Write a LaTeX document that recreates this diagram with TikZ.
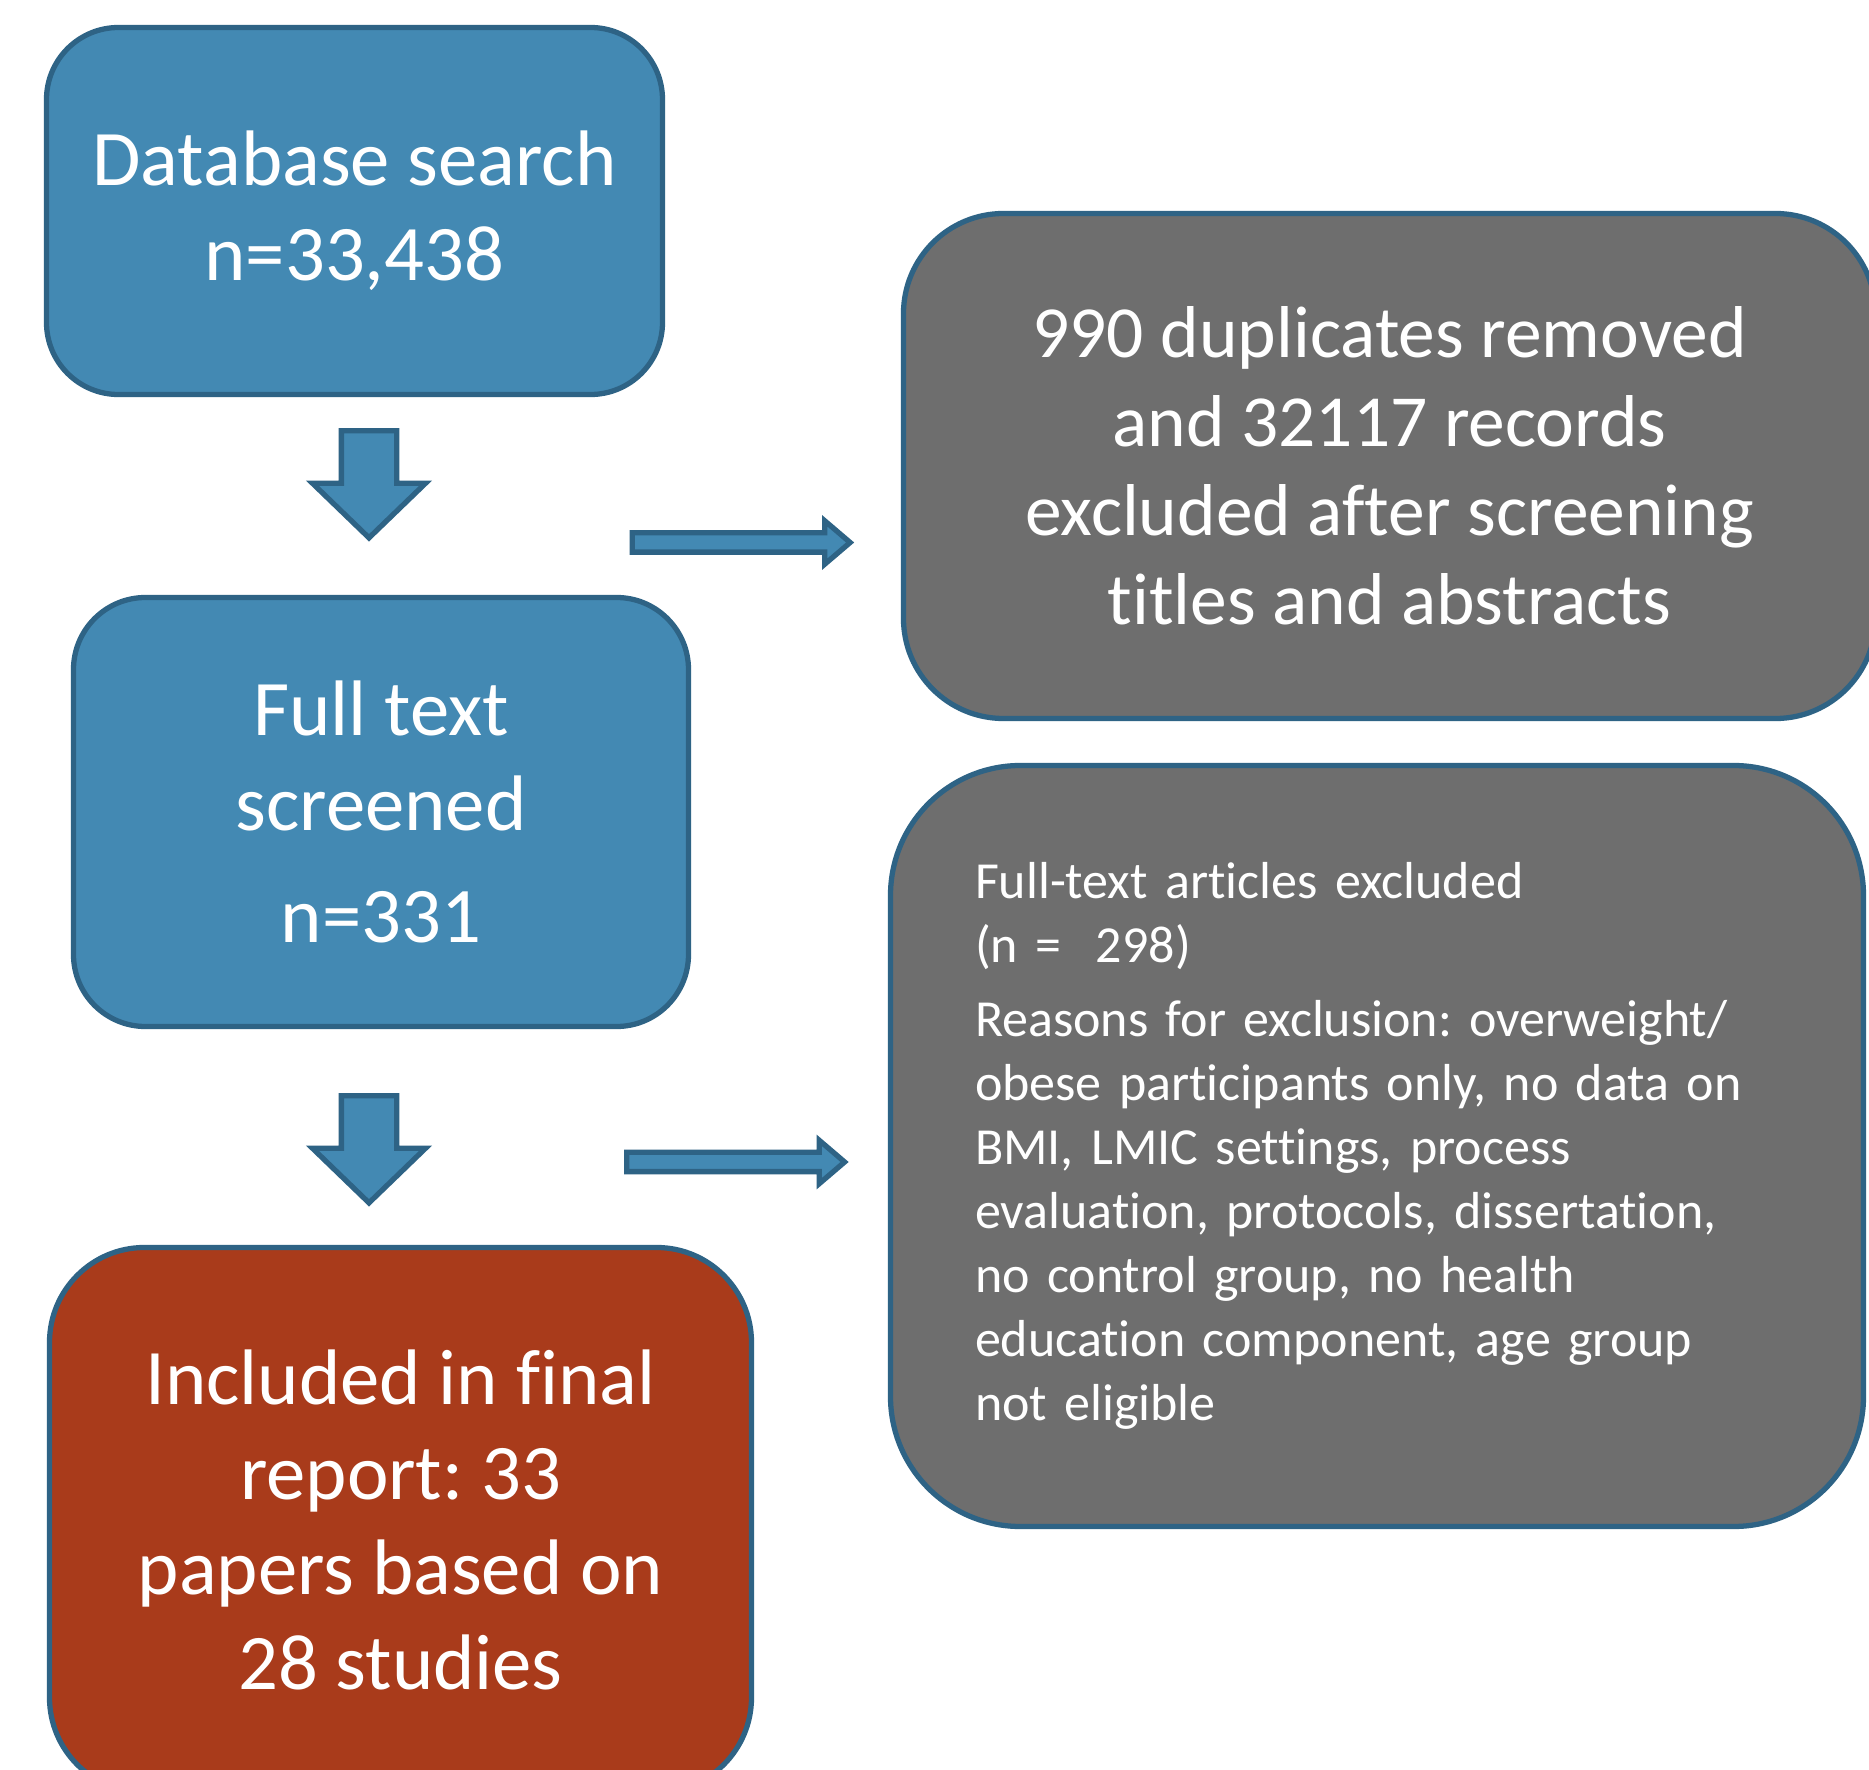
\documentclass[tikz,border=0pt]{standalone}
\usepackage{fontspec}
\setmainfont{Carlito}[Ligatures={NoCommon}]
\usetikzlibrary{shapes.arrows}

\definecolor{boxblue}{HTML}{4389B3}
\definecolor{edgeblue}{HTML}{2E6385}
\definecolor{boxgray}{HTML}{6E6E6E}
\definecolor{boxred}{HTML}{A93B1B}

\tikzset{
    flowbox/.style={draw=edgeblue, line width=1.5pt, text=white, align=center, inner sep=0pt},
    downarrow/.style={single arrow, rotate=-90, draw=edgeblue, fill=boxblue,
        line width=1.5pt, inner xsep=0pt, inner ysep=0.25cm, minimum height=1.07cm,
        single arrow head extend=0.29cm, single arrow tip angle=92},
    rightarrow/.style={single arrow, draw=edgeblue, fill=boxblue,
        line width=1.5pt, inner xsep=0pt, inner ysep=0.07cm, minimum height=2.18cm,
        single arrow head extend=0.12cm, single arrow tip angle=81}
}

\begin{document}
\frenchspacing
\begin{tikzpicture}
    % Page frame
    \fill[white] (0,0) rectangle (18.69,-17.70);
    \useasboundingbox (0,0) rectangle (18.69,-17.70);

    % Left column
    \node[flowbox, fill=boxblue, minimum width=6.16cm, minimum height=3.67cm, rounded corners=0.72cm,
        font=\fontsize{22.4}{27}\selectfont] (search) at (3.545,-2.11)
        {Database search\\n=33,438};
    \node[flowbox, fill=boxblue, minimum width=6.15cm, minimum height=4.29cm, rounded corners=0.72cm,
        font=\fontsize{22.4}{27}\selectfont] (fulltext) at (3.81,-8.12)
        {Full text\\screened\\[5pt]n=331};
    \node[flowbox, fill=boxred, minimum width=7.02cm, minimum height=5.45cm, rounded corners=0.95cm,
        font=\fontsize{22.4}{27}\selectfont] (included) at (4.005,-15.20)
        {Included in final\\report: 33\\papers based on\\28 studies};

    % Right column
    \node[flowbox, fill=boxgray, minimum width=9.72cm, minimum height=5.05cm, rounded corners=1.0cm,
        font=\fontsize{20.9}{25.3}\selectfont] (duplicates) at (13.895,-4.66)
        {990 duplicates removed\\and 32117 records\\excluded after screening\\titles and abstracts};
    \node[flowbox, fill=boxgray, minimum width=9.73cm, minimum height=7.61cm, rounded corners=1.3cm,
        text width=8.04cm, align=left, font=\fontsize{14.8}{18.2}\selectfont] (excluded) at (13.77,-11.46)
        {Full-text articles excluded\\(n =\ \ 298)\\[3pt]
         Reasons for exclusion: overweight/\\obese participants only, no data on\\
         BMI, LMIC settings, process\\evaluation, protocols, dissertation,\\
         no control group, no health\\education component, age group\\not eligible};

    % Block arrows
    \node[downarrow] (down1) at (3.69,-4.71) {};
    \node[downarrow] (down2) at (3.69,-11.36) {};
    \node[rightarrow] (right1) at (7.355,-5.425) {};
    \node[rightarrow] (right2) at (7.30,-11.62) {};
\end{tikzpicture}
\end{document}
